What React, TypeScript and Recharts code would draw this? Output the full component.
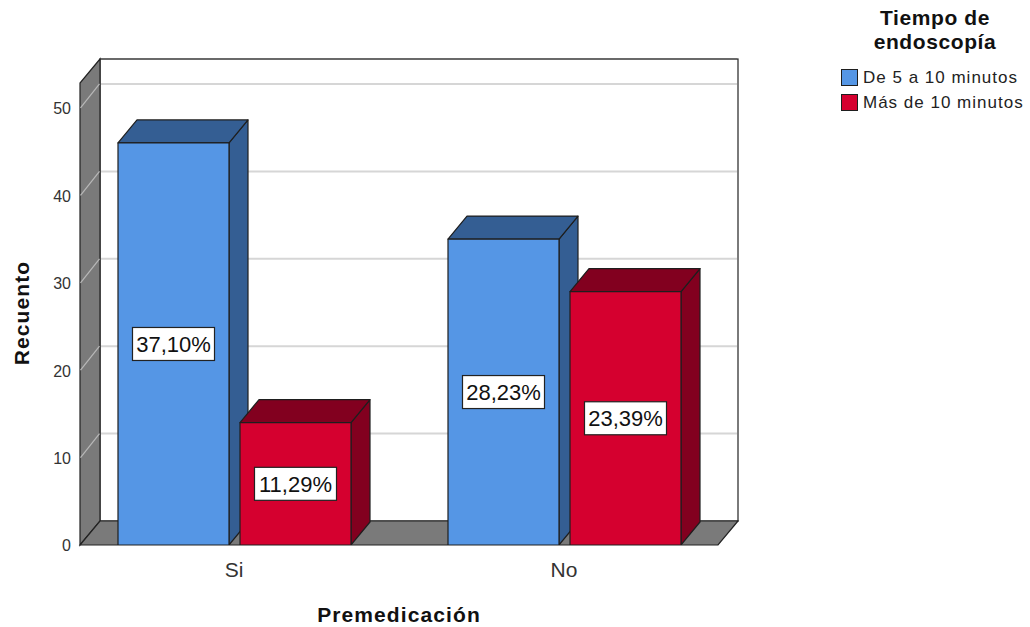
import React from "react";
import { BarChart, Bar, XAxis, YAxis, CartesianGrid, Customized, LabelList } from "recharts";

// Premedicación x Tiempo de endoscopía (counts)
const categories = ["Si", "No"];
const shortCounts = [46, 35]; // De 5 a 10 minutos
const longCounts = [14, 29]; // Más de 10 minutos
const seriesNames = ["De 5 a 10 minutos", "Más de 10 minutos"];
const yTicks = [0, 10, 20, 30, 40, 50];
const Y_MAX = 52.86;

const FONT = '"Liberation Sans", Arial, sans-serif';

const palette = [
  { front: "#5596e5", dark: "#345e93" },
  { front: "#d5002f", dark: "#82001f" },
];

// plot geometry
const W = 1030;
const H = 627;
const PLOT_TOP = 83;
const PLOT_BOTTOM = 545;
const FRONT_LEFT = 80;
const FRONT_RIGHT = 718;
const WALL_DX = 20;
const WALL_DY = 24;
const BAR_DX = 19;
const BAR_DY = 23;

const total = [...shortCounts, ...longCounts].reduce((a, b) => a + b, 0);
const pct = (v: number) => ((v / total) * 100).toFixed(2).replace(".", ",") + "%";

const data = categories.map((name, i) => ({
  name,
  short: shortCounts[i],
  long: longCounts[i],
}));

// left wall, floor and back wall outline
function Walls() {
  const bx0 = FRONT_LEFT + WALL_DX;
  const bx1 = FRONT_RIGHT + WALL_DX;
  const by0 = PLOT_TOP - WALL_DY;
  const by1 = PLOT_BOTTOM - WALL_DY;
  return (
    <g>
      <rect x={bx0} y={by0} width={bx1 - bx0} height={by1 - by0} fill="none" stroke="#222" strokeWidth={1.2} />
      <polygon
        points={`${FRONT_LEFT},${PLOT_BOTTOM} ${FRONT_LEFT},${PLOT_TOP} ${bx0},${by0} ${bx0},${by1}`}
        fill="#7a7a7a"
        stroke="#222"
        strokeWidth={1.2}
      />
      <polygon
        points={`${FRONT_LEFT},${PLOT_BOTTOM} ${bx0},${by1} ${bx1},${by1} ${FRONT_RIGHT},${PLOT_BOTTOM}`}
        fill="#7a7a7a"
        stroke="#222"
        strokeWidth={1.2}
      />
    </g>
  );
}

// gridline on the back wall, pushed back by the wall depth
function GridLine(props: any) {
  const { y1 } = props;
  if (Math.abs(y1 - PLOT_BOTTOM) < 1) return <g key={props.key} />;
  const bx0 = FRONT_LEFT + WALL_DX;
  const bx1 = FRONT_RIGHT + WALL_DX;
  return (
    <line
      key={props.key}
      x1={bx0 + 1}
      y1={y1 - WALL_DY}
      x2={bx1 - 1}
      y2={y1 - WALL_DY}
      stroke="#d6d6d6"
      strokeWidth={2}
    />
  );
}

function makeBox(idx: number) {
  const { front, dark } = palette[idx];
  return (props: any) => {
    const { x, y, width: w, height: h } = props;
    if (!h || h <= 0) return <g />;
    return (
      <g stroke="#1e1e1e" strokeWidth={1.2} strokeLinejoin="round">
        <polygon
          points={`${x + w},${y} ${x + w + BAR_DX},${y - BAR_DY} ${x + w + BAR_DX},${y + h - BAR_DY} ${x + w},${y + h}`}
          fill={dark}
        />
        <polygon
          points={`${x},${y} ${x + BAR_DX},${y - BAR_DY} ${x + w + BAR_DX},${y - BAR_DY} ${x + w},${y}`}
          fill={dark}
        />
        <rect x={x} y={y} width={w} height={h} fill={front} />
      </g>
    );
  };
}

function PctLabel(props: any) {
  const { x, y, width, height, value } = props;
  const text = pct(Number(value));
  const cx = x + width / 2;
  const cy = y + height / 2;
  const bw = 82;
  const bh = 33;
  return (
    <g>
      <rect x={cx - bw / 2} y={cy - bh / 2} width={bw} height={bh} fill="#fff" stroke="#222" strokeWidth={1.2} />
      <text x={cx} y={cy} dy="0.36em" textAnchor="middle" fontFamily={FONT} fontSize={22} fill="#111">
        {text}
      </text>
    </g>
  );
}

// tick label plus the diagonal guide across the left wall
function YTick(props: any) {
  const { y, payload } = props;
  const isFloor = Math.abs(y - PLOT_BOTTOM) < 1;
  return (
    <g>
      {!isFloor && (
        <line
          x1={FRONT_LEFT + 0.5}
          y1={y}
          x2={FRONT_LEFT + WALL_DX - 0.5}
          y2={y - WALL_DY}
          stroke="#b8b8b8"
          strokeWidth={1.2}
        />
      )}
      <text x={71} y={y} dy="0.4em" textAnchor="end" fontFamily={FONT} fontSize={16} fill="#333">
        {payload.value}
      </text>
    </g>
  );
}

function Titles() {
  return (
    <g fontFamily={FONT} fontWeight="bold" fill="#111">
      <text x={399} y={622} textAnchor="middle" fontSize={21} letterSpacing={1.1}>
        Premedicación
      </text>
      <text
        x={29}
        y={313}
        textAnchor="middle"
        fontSize={21}
        letterSpacing={1.1}
        transform="rotate(-90 29 313)"
      >
        Recuento
      </text>
    </g>
  );
}

function LegendBox() {
  return (
    <div style={{ position: "absolute", left: 830, top: 6, width: 200, fontFamily: FONT, color: "#111" }}>
      <div style={{ width: 210, textAlign: "center", fontWeight: "bold", fontSize: 21, lineHeight: "24px", letterSpacing: 0.6 }}>
        Tiempo de
        <br />
        endoscopía
      </div>
      <div style={{ marginTop: 11 }}>
        {seriesNames.map((n, i) => (
          <div key={n} style={{ display: "flex", alignItems: "center", height: 25, marginLeft: 11 }}>
            <span
              style={{
                display: "inline-block",
                width: 15,
                height: 15,
                background: palette[i].front,
                border: "1px solid #1e1e1e",
                marginRight: 5,
              }}
            />
            <span style={{ fontSize: 17, letterSpacing: 1, color: "#222" }}>{n}</span>
          </div>
        ))}
      </div>
    </div>
  );
}

export default function App() {
  return (
    <div style={{ position: "absolute", left: 0, top: 0, width: W, height: H, background: "#fff" }}>
      <BarChart
        width={W}
        height={H}
        data={data}
        margin={{ top: PLOT_TOP, right: 301, bottom: 0, left: 0 }}
        barSize={111}
        barGap={11}
      >
        <Customized component={Walls} />
        <CartesianGrid vertical={false} horizontal={GridLine as any} />
        <XAxis
          dataKey="name"
          height={H - PLOT_BOTTOM}
          axisLine={false}
          tickLine={false}
          tickSize={0}
          tickMargin={17}
          tick={{ fontSize: 21, fill: "#333", fontFamily: FONT }}
        />
        <YAxis
          width={69}
          domain={[0, Y_MAX]}
          ticks={yTicks}
          axisLine={false}
          tickLine={false}
          tick={<YTick />}
          allowDataOverflow
        />
        <Bar dataKey="short" name={seriesNames[0]} shape={makeBox(0)} isAnimationActive={false}>
          <LabelList dataKey="short" content={<PctLabel />} />
        </Bar>
        <Bar dataKey="long" name={seriesNames[1]} shape={makeBox(1)} isAnimationActive={false}>
          <LabelList dataKey="long" content={<PctLabel />} />
        </Bar>
        <Customized component={Titles} />
      </BarChart>
      <LegendBox />
    </div>
  );
}
